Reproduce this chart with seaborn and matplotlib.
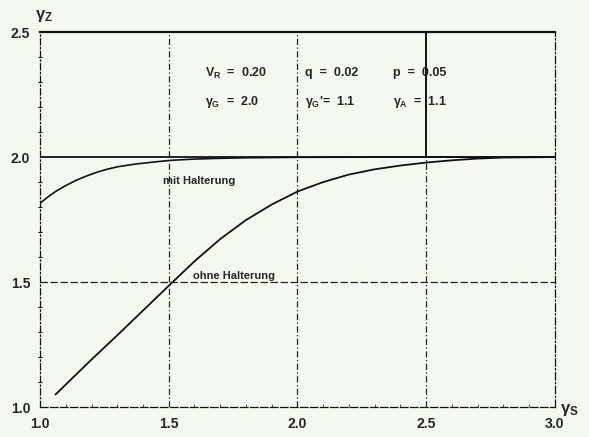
import numpy as np
import pandas as pd
import seaborn as sns
import matplotlib.pyplot as plt

# curve data
mit_x = [1.0, 1.03, 1.06, 1.1, 1.14, 1.18, 1.22, 1.26, 1.3, 1.37, 1.45, 1.51, 1.6, 1.7, 1.8, 2.0, 2.5, 3.0]
mit_y = [1.815, 1.84, 1.862, 1.886, 1.907, 1.924, 1.939, 1.951, 1.961, 1.972, 1.981, 1.987, 1.992,
         1.995, 1.997, 1.999, 2.0, 2.0]

ohne_x = [1.06, 1.1, 1.2, 1.3, 1.4, 1.5, 1.6, 1.7, 1.8, 1.9, 2.0, 2.1, 2.2, 2.3, 2.4, 2.5,
          2.6, 2.7, 2.8, 3.0]
ohne_y = [1.05, 1.09, 1.19, 1.287, 1.386, 1.485, 1.583, 1.672, 1.748, 1.81, 1.862, 1.9, 1.93,
          1.951, 1.966, 1.978, 1.987, 1.994, 1.998, 2.0]

x_ticks = [1.0, 1.5, 2.0, 2.5, 3.0]
y_ticks = [1.0, 1.5, 2.0, 2.5]

params_row1 = [r"$V_R$  =  0.20", "q  =  0.02", "p  =  0.05"]
params_row2 = [r"$\gamma_G$  =  2.0", r"$\gamma_G$'=  1.1", r"$\gamma_A$  =  1.1"]

sns.set_style("white")
plt.rcParams['font.family'] = ['Liberation Sans', 'DejaVu Sans']
plt.rcParams['font.weight'] = 'bold'
plt.rcParams['mathtext.fontset'] = 'custom'
plt.rcParams['mathtext.rm'] = 'Liberation Sans:bold'
plt.rcParams['mathtext.it'] = 'Liberation Sans:bold'
plt.rcParams['mathtext.bf'] = 'Liberation Sans:bold'

bg = '#f3f9ef'
fig = plt.figure(figsize=(5.89, 4.37), dpi=100, facecolor=bg)
ax = fig.add_axes([0.068, 0.0686, 0.874, 0.858], facecolor=bg)

df_mit = pd.DataFrame({"x": mit_x, "y": mit_y})
df_ohne = pd.DataFrame({"x": ohne_x, "y": ohne_y})
sns.lineplot(data=df_mit, x="x", y="y", ax=ax, color='#111111', lw=1.2)
sns.lineplot(data=df_ohne, x="x", y="y", ax=ax, color='#111111', lw=1.3)

ax.set_xlim(1.0, 3.0)
ax.set_ylim(1.0, 2.5)

# grid lines like the original drawing
ax.axhline(2.0, color='#111111', lw=1.3)
ax.axhline(1.5, color='#222222', lw=0.9, ls=(0, (6, 2)))
ax.axvline(1.5, color='#222222', lw=0.9, ls=(0, (5, 2, 1, 2)))
ax.axvline(2.0, color='#222222', lw=0.9, ls=(0, (5, 2, 1, 2)))
ax.plot([2.5, 2.5], [2.0, 2.5], color='#111111', lw=1.4)
ax.plot([2.5, 2.5], [1.0, 2.0], color='#222222', lw=0.9, ls=(0, (5, 2, 1, 2)))

for side in ['top', 'right', 'bottom', 'left']:
    ax.spines[side].set_color('#111111')
ax.spines['top'].set_linewidth(1.6)
ax.spines['right'].set_linewidth(0.9)
ax.spines['right'].set_linestyle((0, (6, 2, 1, 2)))
ax.spines['bottom'].set_linewidth(0.9)
ax.spines['bottom'].set_linestyle((0, (6, 2)))
ax.spines['left'].set_linewidth(0.9)
ax.spines['left'].set_linestyle((0, (5, 2, 1, 2)))

ax.set_xticks(x_ticks)
ax.set_yticks(y_ticks)
ax.set_xticklabels([f"{t:.1f}" for t in x_ticks], fontsize=10, fontweight='bold')
ax.set_yticklabels([f"{t:.1f}" for t in y_ticks], fontsize=10, fontweight='bold')
ax.set_xticks(np.arange(1.0, 3.01, 0.1), minor=True)
ax.set_yticks(np.arange(1.0, 2.51, 0.1), minor=True)
ax.tick_params(axis='y', which='major', direction='out', length=5, width=0.9, color='#111111', pad=2)
ax.tick_params(axis='y', which='minor', direction='inout', length=3, width=0.8, color='#111111', left=True)
ax.tick_params(axis='x', which='major', direction='in', length=0, pad=7)
ax.tick_params(axis='x', which='minor', direction='in', length=2, width=0.6, color='#333333', bottom=True)
ax.set_xlabel("")
ax.set_ylabel("")

# axis symbols
ax.text(0.98, 2.565, r"$\gamma_Z$", fontsize=12, ha='left', va='center', clip_on=False)
ax.text(3.02, 0.99, r"$\gamma_S$", fontsize=12, ha='left', va='center', clip_on=False)

# parameter block
cols = [1.641, 2.029, 2.371]
for cx, t1, t2 in zip(cols, params_row1, params_row2):
    ax.text(cx, 2.336, t1, fontsize=9, ha='left', va='center')
    ax.text(cx, 2.22, t2, fontsize=9, ha='left', va='center')

ax.text(1.478, 1.904, "mit Halterung", fontsize=8, ha='left', va='center')
ax.text(1.594, 1.524, "ohne Halterung", fontsize=8, ha='left', va='center')

fig.savefig("out.png", dpi=100, facecolor=bg)
